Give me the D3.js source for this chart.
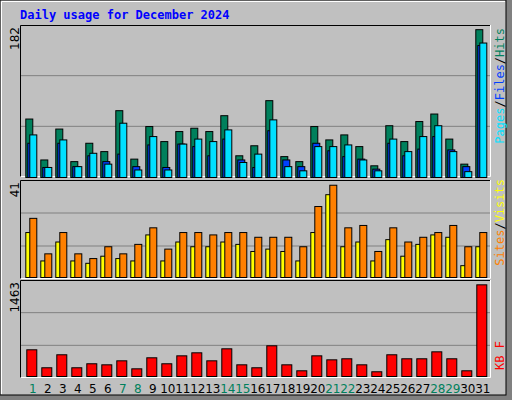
<!DOCTYPE html>
<html>
<head>
<meta charset="UTF-8">
<script src="https://d3js.org/d3.v7.min.js"></script>
<style>
  body { margin: 0; }
  text { font-family: "DejaVu Sans", sans-serif; }
  .mono { font-family: "DejaVu Sans Mono", monospace; }
</style>
</head>
<body>
<svg width="512" height="400"></svg>
<script>
const days = d3.range(1, 32);
const weekend = [1, 7, 8, 14, 15, 21, 22, 28, 29];
const hits  = [70,21,58,19,41,31,80,22,61,43,55,59,55,74,26,38,92,25,19,61,45,51,37,14,62,43,67,76,46,16,177];
const files = [41,12,41,13,26,19,28,13,39,12,40,37,26,46,21,12,56,21,13,41,32,25,22,10,41,26,34,49,33,13,158];
const pages = [51,12,45,13,29,16,65,9,49,9,40,46,43,57,18,28,69,13,8,37,37,39,21,8,46,31,49,62,31,7,161];
const sites  = [19,7,15,7,6,9,8,7,18,7,15,13,13,15,14,11,12,11,7,19,35,13,15,7,16,9,14,18,17,5,13];
const visits = [25,10,19,10,8,13,10,14,21,12,19,19,18,19,19,17,17,17,13,30,39,21,22,11,21,15,17,19,22,13,19];
const kbytes = [407,133,331,133,194,178,239,117,285,194,315,361,239,422,178,133,468,178,87,315,254,270,178,72,331,270,270,376,270,87,1397];
const maxHits = 182, maxVisits = 41, maxKB = 1463;

const svg = d3.select("svg");
// frame
svg.append("rect").attr("width", 512).attr("height", 400).attr("fill", "#808080");
svg.append("rect").attr("width", 506).attr("height", 395).attr("fill", "#c0c0c0")
  .attr("stroke", "black").attr("stroke-width", 1);
svg.append("path").attr("d", "M1.5,394V1.5H505").attr("fill", "none").attr("stroke", "white");

svg.append("text").attr("class", "mono").attr("x", 20).attr("y", 19)
  .attr("fill", "#0000ff").attr("font-size", 12).attr("font-weight", "bold")
  .text("Daily usage for December 2024");

const x = d3.scaleLinear().domain([1, 31]).range([25.3, 475.3]);

function panel(y0, y1, base, max, label) {
  const y = d3.scaleLinear().domain([0, max]).range([base, y0]);
  const g = svg.append("g");
  const h = (y1 - y0) / 3;
  [1, 2].forEach(i => g.append("line").attr("x1", 20).attr("x2", 491)
    .attr("y1", y0 + h * i).attr("y2", y0 + h * i).attr("stroke", "#808080"));
  g.append("path").attr("d", `M20.5,${y1}V${y0 + 0.5}H491`).attr("fill", "none").attr("stroke", "black");
  g.append("path").attr("d", `M20.5,${y1 - 0.5}H490.5V${y0}`).attr("fill", "none").attr("stroke", "white");
  svg.append("text").attr("transform", `translate(19,${y0 + 2}) rotate(-90)`)
    .attr("text-anchor", "end").attr("font-size", 12).text(label);
  return { g, y };
}

function bars(p, data, dx, w, color) {
  p.g.selectAll(null).data(data).enter().append("rect")
    .attr("x", (d, i) => x(days[i]) + dx + 0.5)
    .attr("y", d => p.y(d) + 0.5)
    .attr("width", w)
    .attr("height", d => p.y(0) - p.y(d))
    .attr("fill", color).attr("stroke", "black");
}

const p1 = panel(25, 177, 177, maxHits, "182");
bars(p1, hits, 0, 7, "#00805c");
bars(p1, files, 2, 7, "#0040ff");
bars(p1, pages, 4, 7, "#00e0ff");

const p2 = panel(180, 279, 277, maxVisits, "41");
bars(p2, sites, 0, 7, "#ffff00");
bars(p2, visits, 4, 7, "#ff8000");

const p3 = panel(280, 378, 376, maxKB, "1463");
bars(p3, kbytes, 1, 10, "#ff0000");

function sideLabel(yEnd, parts, anchor) {
  const t = svg.append("text").attr("class", "mono")
    .attr("transform", `translate(504,${yEnd}) rotate(-90)`)
    .attr("text-anchor", anchor).attr("font-size", 12);
  parts.forEach(([s, c]) => t.append("tspan").attr("fill", c).text(s));
}
sideLabel(28, [["Pages", "#00e0ff"], ["/", "black"], ["Files", "#0040ff"], ["/", "black"], ["Hits", "#00805c"]], "end");
sideLabel(179, [["Sites", "#ff8000"], ["/", "black"], ["Visits", "#ffff00"]], "end");
sideLabel(370, [["KB F", "#ff0000"]], "start");

svg.selectAll(".day").data(days).enter().append("text")
  .attr("x", d => x(d) + 7.5).attr("y", 393)
  .attr("text-anchor", "middle").attr("font-size", 12)
  .attr("fill", d => weekend.includes(d) ? "#00805c" : "black")
  .text(d => d);
</script>
</body>
</html>
